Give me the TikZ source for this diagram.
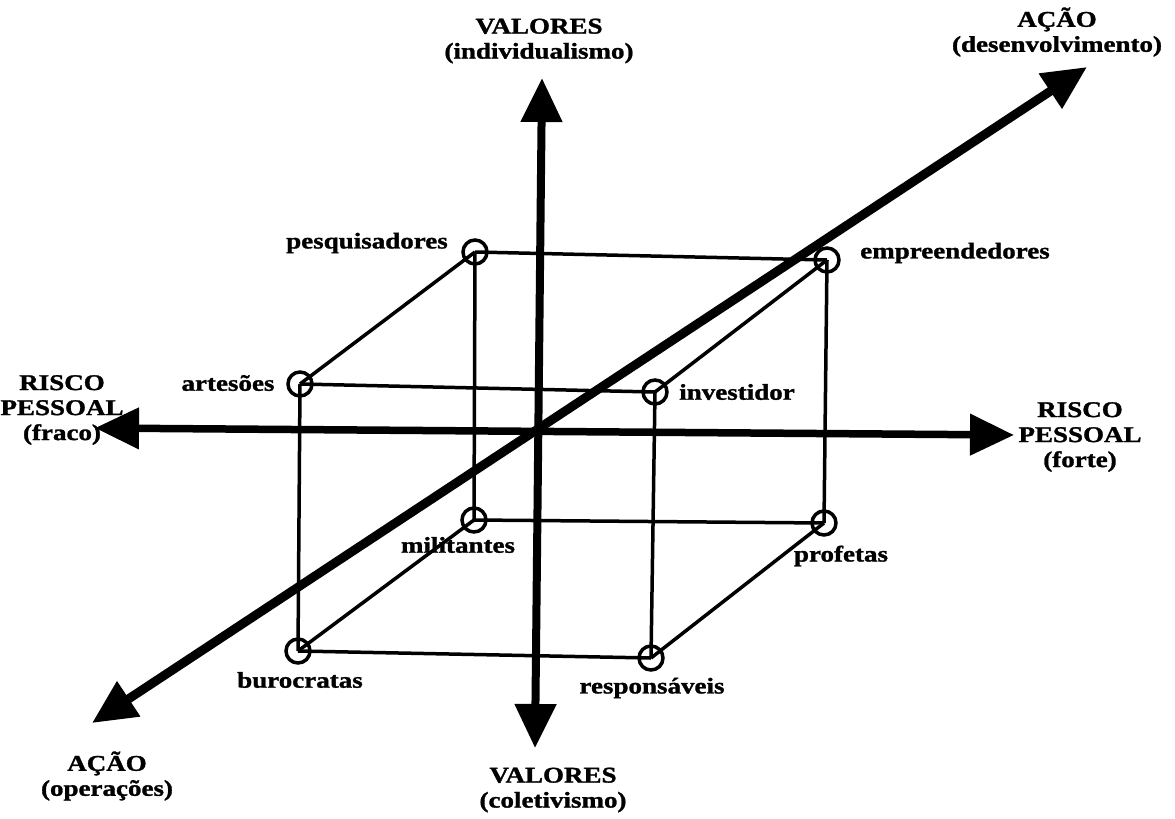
\documentclass[tikz,border=0pt]{standalone}
\usepackage{fontspec}
\setmainfont{Liberation Serif}[FakeStretch=1.2,FakeBold=1.3]
\usetikzlibrary{arrows.meta}
\begin{document}
\begin{tikzpicture}[x=1pt,y=-1pt,
  lbl/.style={font=\bfseries\fontsize{22.5}{25}\selectfont, inner sep=0pt, align=center},
  vtx/.style={circle, draw, line width=3.5pt, minimum size=24pt, inner sep=0pt},
  edge/.style={line width=3.5pt},
  axis/.style={line width=8pt, {Triangle[length=44pt,width=40pt]}-{Triangle[length=44pt,width=40pt]}}
]
\useasboundingbox (0,0) rectangle (1175,819);
% vertices
\node[vtx] (pes) at (475,252) {};
\node[vtx] (emp) at (827,260) {};
\node[vtx] (art) at (300,384) {};
\node[vtx] (inv) at (655,392) {};
\node[vtx] (mil) at (474,520) {};
\node[vtx] (pro) at (824,523) {};
\node[vtx] (bur) at (298,651) {};
\node[vtx] (res) at (651,658) {};
% cube edges
\draw[edge] (pes.center) -- (emp.center);
\draw[edge] (pes.center) -- (art.center);
\draw[edge] (pes.center) -- (mil.center);
\draw[edge] (emp.center) -- (inv.center);
\draw[edge] (emp.center) -- (pro.center);
\draw[edge] (art.center) -- (inv.center);
\draw[edge] (art.center) -- (bur.center);
\draw[edge] (inv.center) -- (res.center);
\draw[edge] (mil.center) -- (pro.center);
\draw[edge] (mil.center) -- (bur.center);
\draw[edge] (pro.center) -- (res.center);
\draw[edge] (bur.center) -- (res.center);
% axes
\coordinate (vt) at (542,78);
\coordinate (vb) at (535,748);
\coordinate (hl) at (95,428);
\coordinate (hr) at (1014,435);
\coordinate (dl) at (92,723);
\coordinate (dr) at (1087,67);
\draw[axis] (vb) -- (vt);
\draw[axis, line width=7.5pt] (hl) -- (hr);
\draw[axis, line width=9pt] (dl) -- (dr);
% axis labels
\node[lbl] (valtop) at (539,41) {VALORES\\(individualismo)};
\node[lbl] (acaotop) at (1057,32) {AÇÃO\\(desenvolvimento)};
\node[lbl] (riscol) at (62,410) {RISCO\\PESSOAL\\(fraco)};
\node[lbl] (riscor) at (1080,437) {RISCO\\PESSOAL\\(forte)};
\node[lbl] (acaobot) at (107,776) {AÇÃO\\(operações)};
\node[lbl] (valbot) at (553,790) {VALORES\\(coletivismo)};
% vertex labels
\node[lbl] (lpes) at (367,243) {pesquisadores};
\node[lbl] (lemp) at (955,253) {empreendedores};
\node[lbl] (lart) at (228,383) {artesões};
\node[lbl] (linv) at (737,392) {investidor};
\node[lbl] (lmil) at (458,545) {militantes};
\node[lbl] (lpro) at (841,556) {profetas};
\node[lbl] (lbur) at (300,680) {burocratas};
\node[lbl] (lres) at (652,688) {responsáveis};
\end{tikzpicture}
\end{document}
